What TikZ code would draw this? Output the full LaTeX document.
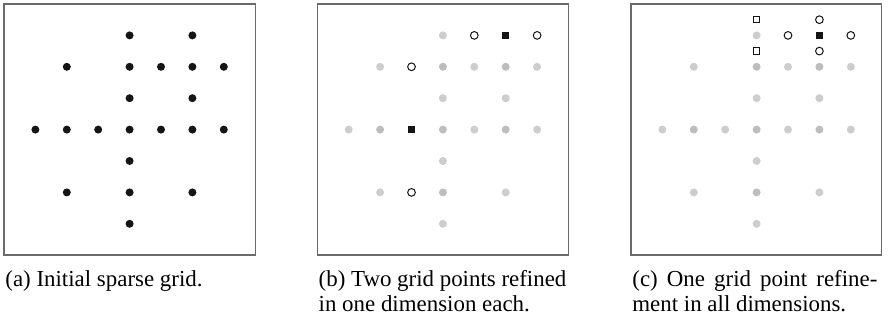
\documentclass[tikz,border=0pt]{standalone}
\usepackage{fontspec}
\setmainfont{Liberation Serif}
\definecolor{boxgray}{HTML}{6A6A6A}
\definecolor{dotblack}{HTML}{151515}
\definecolor{lightg}{HTML}{CDCDCD}
\definecolor{darkg}{HTML}{BDBDBD}
\begin{document}
\begin{tikzpicture}[x=0.5pt,y=-0.5pt,
  panel/.style={draw=boxgray,line width=0.55pt},
  dot/.style={circle,fill=dotblack,inner sep=0pt,minimum size=4pt},
  lg/.style={circle,fill=lightg,inner sep=0pt,minimum size=4pt},
  dg/.style={circle,fill=darkg,inner sep=0pt,minimum size=4pt},
  newpt/.style={circle,draw=dotblack,fill=white,line width=0.5pt,inner sep=0pt,minimum size=3.85pt},
  refsq/.style={rectangle,fill=dotblack,inner sep=0pt,minimum size=3.6pt},
  newsq/.style={rectangle,draw=dotblack,fill=white,line width=0.5pt,inner sep=0pt,minimum size=3.2pt},
  captext/.style={anchor=base west,inner sep=0pt,font=\fontsize{11.45pt}{12.5pt}\selectfont}
]
\useasboundingbox (0,0) rectangle (892,320);
% panel frames
\draw[panel] (4,4) rectangle (255.3,255);
\draw[panel] (317.3,4) rectangle (568.3,255);
\draw[panel] (631,4) rectangle (881.7,255);
% (a) initial sparse grid
\foreach \i/\j in {3/0,5/0,1/1,3/1,4/1,5/1,6/1,3/2,5/2,0/3,1/3,2/3,3/3,4/3,5/3,6/3,3/4,1/5,3/5,5/5,3/6}
  \node[dot] (a-\i-\j) at ({4+31.4*(\i+1)},{4+31.4*(\j+1)}) {};
% (b)
\foreach \i/\j/\s in {3/0/lg,1/1/lg,3/1/dg,4/1/lg,5/1/dg,6/1/lg,3/2/lg,5/2/lg,0/3/lg,1/3/dg,3/3/dg,4/3/lg,5/3/dg,6/3/lg,3/4/lg,1/5/lg,3/5/dg,5/5/lg,3/6/lg}
  \node[\s] (b-\i-\j) at ({317.3+31.4*(\i+1)},{4+31.4*(\j+1)}) {};
\foreach \i/\j in {5/0,2/3}
  \node[refsq] (bs-\i-\j) at ({317.3+31.4*(\i+1)},{4+31.4*(\j+1)}) {};
\foreach \i/\j in {4/0,6/0,2/1,2/5}
  \node[newpt] (bn-\i-\j) at ({317.3+31.4*(\i+1)},{4+31.4*(\j+1)}) {};
% (c)
\foreach \i/\j/\s in {3/0/lg,1/1/lg,3/1/dg,4/1/lg,5/1/dg,6/1/lg,3/2/lg,5/2/lg,0/3/lg,1/3/dg,2/3/lg,3/3/dg,4/3/lg,5/3/dg,6/3/lg,3/4/lg,1/5/lg,3/5/dg,5/5/lg,3/6/lg}
  \node[\s] (c-\i-\j) at ({631+31.4*(\i+1)},{4+31.4*(\j+1)}) {};
\node[refsq] (cs-5-0) at ({631+31.4*6},{4+31.4}) {};
\foreach \i/\j in {4/0,6/0}
  \node[newpt] (cn-\i-\j) at ({631+31.4*(\i+1)},{4+31.4*(\j+1)}) {};
\node[newpt] (cn-up) at ({631+31.4*6},{4+31.4*0.5}) {};
\node[newpt] (cn-dn) at ({631+31.4*6},{4+31.4*1.5}) {};
\node[newsq] (cq-up) at ({631+31.4*4},{4+31.4*0.5}) {};
\node[newsq] (cq-dn) at ({631+31.4*4},{4+31.4*1.5}) {};
% captions
\node[captext] (capa) at (5,286.5) {(a) Initial sparse grid.};
\node[captext] (capb1) at (318.3,286.5) {(b) Two grid points refined};
\node[captext] (capb2) at (318.3,311.5) {in one dimension each.};
\node[captext] (capc1) at (632,286.5) {\hbox to 122.5pt{(c) One grid point refine-}};
\node[captext] (capc2) at (632,311.5) {ment in all dimensions.};
\end{tikzpicture}
\end{document}
